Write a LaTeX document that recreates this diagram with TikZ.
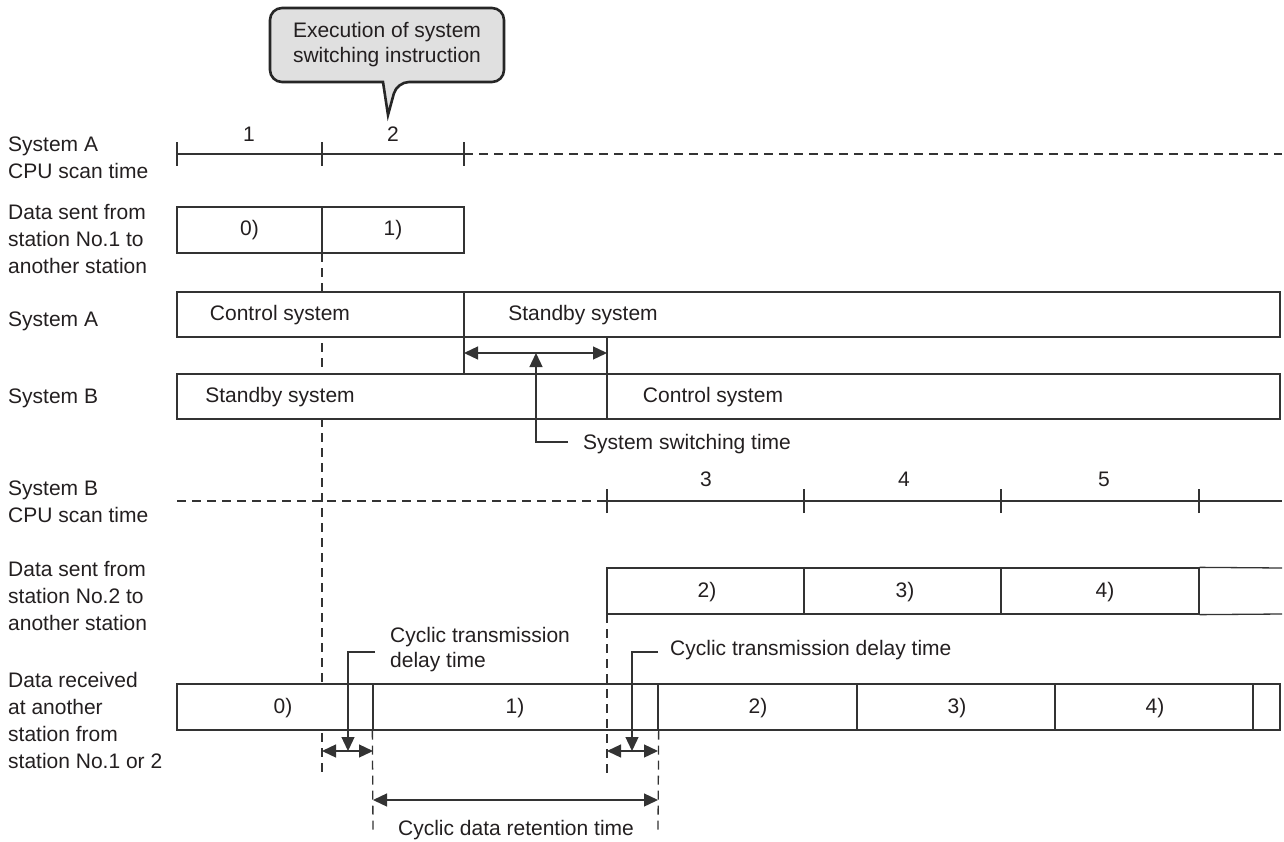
\documentclass[tikz,border=0pt]{standalone}
\usepackage{fontspec}
\setmainfont{Liberation Sans}
\usetikzlibrary{arrows.meta}
\definecolor{linec}{HTML}{333333}
\definecolor{txtc}{HTML}{231F20}
\definecolor{callfill}{HTML}{E0E0E0}
\tikzset{
  ln/.style={draw=linec, line width=1.3pt},
  dsh/.style={draw=linec, line width=1.3pt, dash pattern=on 9pt off 6pt},
  cell/.style={draw=linec, line width=1.3pt, fill=white, rectangle, inner sep=0pt, text=txtc},
  txt/.style={font=\fontsize{21}{27}\selectfont, text=txtc, inner sep=0pt},
  lbl/.style={txt, anchor=west, align=left},
  dbl/.style={draw=linec, line width=1.3pt, {Triangle[length=14pt,width=13pt]}-{Triangle[length=14pt,width=13pt]}},
  one/.style={draw=linec, line width=1.3pt, -{Triangle[length=14pt,width=13pt]}},
  callout/.style={draw=black!85, line width=2.6pt, fill=callfill},
}
\begin{document}
\begin{tikzpicture}[x=1pt, y=-1pt]
\useasboundingbox (0,0) rectangle (1284,842);

% callout
\draw[callout] (270,45) [rounded corners=12pt] -- (270,8) -- (504,8) -- (504,82) -- (397,82) [sharp corners] -- (388,115) -- (383,82) [rounded corners=12pt] -- (270,82) -- cycle;
\node[txt, align=center, font=\fontsize{21}{25}\selectfont] (callout) at (387,45) {Execution of system\\switching instruction};

% left labels
\node[lbl] (lA) at (8,158) {System A\\CPU scan time};
\node[lbl] (lD1) at (8,239) {Data sent from\\station No.1 to\\another station};
\node[lbl] (lSA) at (8,321) {System A};
\node[lbl] (lSB) at (8,398) {System B};
\node[lbl] (lB) at (8,502) {System B\\CPU scan time};
\node[lbl] (lD2) at (8,596) {Data sent from\\station No.2 to\\another station};
\node[lbl] (lR) at (8,720) {Data received\\at another\\station from\\station No.1 or 2};

% vertical dashed line at x=322 (behind boxes)
\coordinate (v322t) at (322,253);
\coordinate (v322b) at (322,775);
\draw[dsh] (v322t) -- (v322b);

% System A scan time
\coordinate (sa0) at (177,154);
\coordinate (sa1) at (322,154);
\coordinate (sa2) at (464,154);
\coordinate (saE) at (1282,154);
\draw[ln] (sa0) -- (sa2);
\draw[dsh] (sa2) -- (saE);
\foreach \p in {sa0,sa1,sa2} \draw[ln] ([yshift=-12pt]\p) -- ([yshift=12pt]\p);
\node[txt] (n1) at (249,134) {1};
\node[txt] (n2) at (393,134) {2};

% Data sent No.1
\node[cell, minimum width=145, minimum height=46] (d10) at (249.5,230) {};
\node[cell, minimum width=142, minimum height=46] (d11) at (393,230) {};
\node[txt] at (d10) {0)};
\node[txt] at (d11) {1)};

% System A row
\draw[ln] (464,292) -- (464,374);
\node[cell, minimum width=287, minimum height=45] (sAc) at (320.5,314.5) {};
\node[cell, minimum width=816, minimum height=45] (sAs) at (872,314.5) {};
\node[txt] (tAc) at (280,315) {Control system};
\node[txt] (tAs) at (583,315) {Standby system};

% System B row
\draw[ln] (607,337) -- (607,419);
\node[cell, minimum width=430, minimum height=45] (sBs) at (392,396.5) {};
\node[cell, minimum width=673, minimum height=45] (sBc) at (943.5,396.5) {};
\node[txt] (tBs) at (280,397) {Standby system};
\node[txt] (tBc) at (713,397) {Control system};

% System switching time
\coordinate (swL) at (464,353);
\coordinate (swR) at (607,353);
\coordinate (swU) at (536,353);
\coordinate (swK) at (536,442);
\coordinate (swE) at (568,442);
\draw[dbl] (swL) -- (swR);
\draw[one] (swE) -- (swK) -- (swU);
\node[lbl] (tsw) at (583,444) {System switching time};

% System B scan time
\coordinate (sb0) at (177,501);
\coordinate (sb1) at (607,501);
\coordinate (sb2) at (804,501);
\coordinate (sb3) at (1001,501);
\coordinate (sb4) at (1199,501);
\coordinate (sbE) at (1282,501);
\draw[dsh] (sb0) -- (sb1);
\draw[ln] (sb1) -- (sbE);
\foreach \p in {sb1,sb2,sb3,sb4} \draw[ln] ([yshift=-12pt]\p) -- ([yshift=12pt]\p);
\node[txt] (n3) at (706,479) {3};
\node[txt] (n4) at (904,479) {4};
\node[txt] (n5) at (1104,479) {5};

% Data sent No.2
\node[cell, minimum width=197, minimum height=46] (d22) at (705.5,591) {};
\node[cell, minimum width=197, minimum height=46] (d23) at (902.5,591) {};
\node[cell, minimum width=198, minimum height=46] (d24) at (1100,591) {};
\coordinate (d2et) at (1282,568);
\coordinate (d2eb) at (1282,614);
\draw[ln] (d24.north east) -- (d2et);
\draw[ln] (d24.south east) -- (d2eb);
\node[txt] at (707,592) {2)};
\node[txt] at (905,592) {3)};
\node[txt] at (1105,592) {4)};

% Data received
\node[cell, minimum width=196, minimum height=46] (r0) at (275,707) {};
\node[cell, minimum width=285, minimum height=46] (r1) at (515.5,707) {};
\node[cell, minimum width=199, minimum height=46] (r2) at (757.5,707) {};
\node[cell, minimum width=198, minimum height=46] (r3) at (956,707) {};
\node[cell, minimum width=198, minimum height=46] (r4) at (1154,707) {};
\node[cell, minimum width=27, minimum height=46] (r5) at (1266.5,707) {};
\node[txt] at (283,708) {0)};
\node[txt] at (515,708) {1)};
\node[txt] at (758,708) {2)};
\node[txt] at (957,708) {3)};
\node[txt] at (1155,708) {4)};

% dashed verticals
\coordinate (v607t) at (607,614);
\coordinate (v607b) at (607,775);
\draw[dsh] (v607t) -- (v607b);
\coordinate (v373b) at (373,830);
\coordinate (v658b) at (658,830);
\draw[dsh] (r1.south west) -- (v373b);
\draw[dsh] (r1.south east) -- (v658b);

% left delay time
\coordinate (dl1) at (322,751);
\coordinate (dl2) at (373,751);
\coordinate (dlA) at (348,751);
\coordinate (dlK) at (348,652);
\coordinate (dlE) at (375,652);
\draw[dbl] (dl1) -- (dl2);
\draw[one] (dlE) -- (dlK) -- (dlA);
\node[lbl, font=\fontsize{21}{25}\selectfont] (tdl) at (390,650) {Cyclic transmission\\delay time};

% right delay time
\coordinate (dr1) at (607,751);
\coordinate (dr2) at (658,751);
\coordinate (drA) at (632,751);
\coordinate (drK) at (632,652);
\coordinate (drE) at (658,652);
\draw[dbl] (dr1) -- (dr2);
\draw[one] (drE) -- (drK) -- (drA);
\node[lbl] (tdr) at (670,650) {Cyclic transmission delay time};

% retention time
\coordinate (rt1) at (373,800);
\coordinate (rt2) at (658,800);
\draw[dbl] (rt1) -- (rt2);
\node[txt] (trt) at (516,830) {Cyclic data retention time};
\end{tikzpicture}
\end{document}
